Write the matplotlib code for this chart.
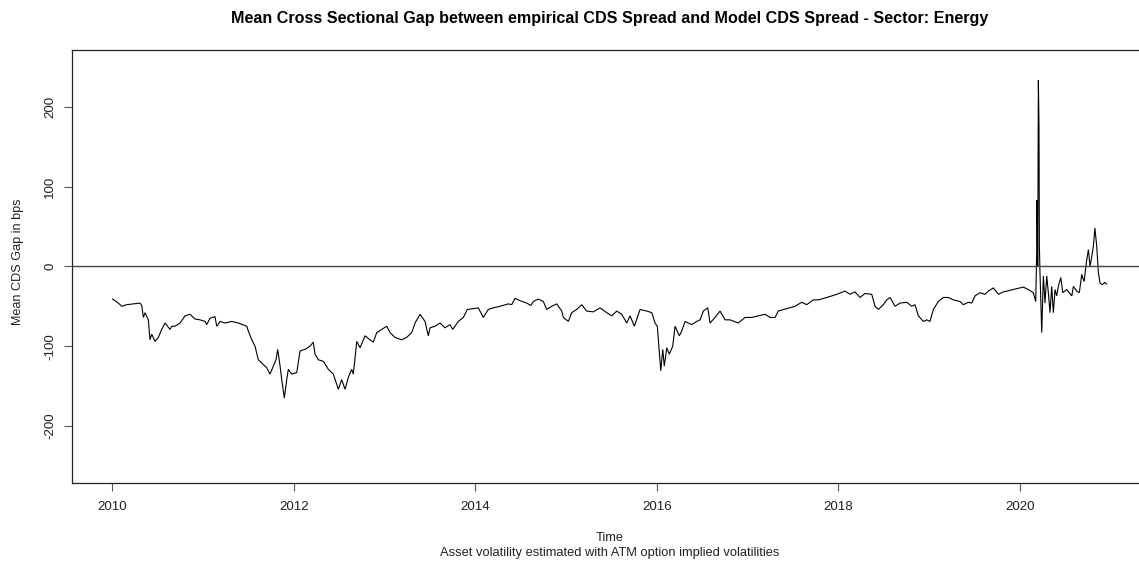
import matplotlib
matplotlib.use("Agg")
import matplotlib.pyplot as plt

plt.rcParams['font.family'] = ['Liberation Sans', 'DejaVu Sans']

title = "Mean Cross Sectional Gap between empirical CDS Spread and Model CDS Spread - Sector: Energy"
xlabel = "Time"
subtitle = "Asset volatility estimated with ATM option implied volatilities"
ylabel = "Mean CDS Gap in bps"
xticks = [2010, 2012, 2014, 2016, 2018, 2020]
yticks = [-200, -100, 0, 100, 200]

# decimal year
dates = [
    2010.004, 2010.066, 2010.104, 2010.159, 2010.231, 2010.305, 2010.324, 2010.342, 2010.360, 2010.397,
    2010.415, 2010.434, 2010.470, 2010.507, 2010.544, 2010.581, 2010.636, 2010.654, 2010.691, 2010.746,
    2010.801, 2010.856, 2010.911, 2010.966, 2011.021, 2011.040, 2011.076, 2011.131, 2011.150, 2011.187,
    2011.242, 2011.315, 2011.388, 2011.481, 2011.498, 2011.536, 2011.572, 2011.608, 2011.664, 2011.701,
    2011.737, 2011.774, 2011.803, 2011.822, 2011.848, 2011.866, 2011.895, 2011.921, 2011.939, 2011.976,
    2012.032, 2012.068, 2012.123, 2012.178, 2012.214, 2012.233, 2012.270, 2012.325, 2012.380, 2012.435,
    2012.490, 2012.527, 2012.564, 2012.600, 2012.637, 2012.655, 2012.693, 2012.729, 2012.784, 2012.839,
    2012.875, 2012.913, 2012.968, 2013.023, 2013.059, 2013.114, 2013.188, 2013.243, 2013.298, 2013.335,
    2013.390, 2013.445, 2013.481, 2013.500, 2013.555, 2013.610, 2013.665, 2013.720, 2013.750, 2013.812,
    2013.867, 2013.911, 2013.977, 2014.032, 2014.087, 2014.142, 2014.198, 2014.271, 2014.363, 2014.400,
    2014.437, 2014.492, 2014.565, 2014.610, 2014.638, 2014.693, 2014.748, 2014.786, 2014.841, 2014.896,
    2014.951, 2014.969, 2015.024, 2015.061, 2015.116, 2015.171, 2015.226, 2015.299, 2015.373, 2015.447,
    2015.502, 2015.557, 2015.612, 2015.667, 2015.704, 2015.751, 2015.814, 2015.888, 2015.943, 2015.979,
    2016.004, 2016.026, 2016.042, 2016.064, 2016.081, 2016.108, 2016.136, 2016.174, 2016.199, 2016.247,
    2016.273, 2016.310, 2016.383, 2016.438, 2016.475, 2016.511, 2016.560, 2016.585, 2016.640, 2016.695,
    2016.750, 2016.805, 2016.897, 2016.970, 2017.044, 2017.117, 2017.191, 2017.246, 2017.301, 2017.337,
    2017.430, 2017.521, 2017.595, 2017.650, 2017.723, 2017.778, 2017.871, 2017.981, 2018.072, 2018.127,
    2018.182, 2018.237, 2018.292, 2018.366, 2018.403, 2018.439, 2018.494, 2018.532, 2018.568, 2018.623,
    2018.678, 2018.752, 2018.807, 2018.843, 2018.880, 2018.935, 2018.972, 2019.008, 2019.045, 2019.100,
    2019.155, 2019.210, 2019.265, 2019.339, 2019.375, 2019.430, 2019.468, 2019.504, 2019.559, 2019.614,
    2019.651, 2019.706, 2019.761, 2019.816, 2019.890, 2019.964, 2020.036, 2020.091, 2020.146, 2020.173,
    2020.184, 2020.187, 2020.195, 2020.202, 2020.209, 2020.213, 2020.220, 2020.239, 2020.257, 2020.275,
    2020.294, 2020.312, 2020.330, 2020.349, 2020.367, 2020.386, 2020.404, 2020.422, 2020.449, 2020.471,
    2020.515, 2020.570, 2020.588, 2020.625, 2020.653, 2020.680, 2020.705, 2020.735, 2020.753, 2020.771,
    2020.790, 2020.808, 2020.825, 2020.845, 2020.863, 2020.882, 2020.907, 2020.934, 2020.953,
]

gap_bps = [
    -41, -46, -50, -48, -47, -46, -49, -64, -58, -67,
    -92, -85, -94, -89, -79, -71, -79, -75, -75, -71,
    -62, -60, -66, -67, -69, -73, -65, -63, -75, -69,
    -71, -69, -71, -75, -81, -92, -100, -117, -123, -127,
    -135, -125, -117, -104, -125, -142, -165, -142, -129, -135,
    -133, -106, -104, -100, -95, -110, -117, -119, -129, -135,
    -154, -142, -154, -139, -129, -135, -94, -102, -87, -92,
    -95, -83, -79, -75, -83, -89, -92, -89, -83, -71,
    -60, -69, -87, -77, -75, -71, -77, -73, -79, -69,
    -64, -54, -53, -52, -64, -54, -52, -50, -47, -48,
    -40, -43, -46, -49, -44, -41, -44, -54, -50, -47,
    -56, -64, -69, -58, -54, -48, -56, -57, -52, -58,
    -62, -56, -60, -71, -62, -75, -54, -56, -58, -71,
    -75, -108, -131, -104, -125, -102, -110, -100, -75, -87,
    -81, -69, -73, -69, -67, -56, -52, -71, -64, -56,
    -67, -67, -71, -64, -64, -62, -60, -64, -64, -56,
    -53, -50, -45, -48, -42, -42, -39, -35, -31, -35,
    -32, -39, -34, -35, -50, -54, -48, -42, -39, -50,
    -46, -45, -50, -48, -62, -69, -67, -69, -54, -44,
    -39, -39, -42, -44, -48, -45, -46, -37, -33, -35,
    -31, -27, -35, -32, -30, -28, -26, -29, -33, -44,
    21, 83, 0, 233, 175, 25, -8, -83, -12, -46,
    -12, -33, -58, -25, -58, -29, -37, -25, -14, -33,
    -29, -37, -25, -31, -33, -10, -19, 8, 21, 0,
    12, 25, 48, 25, -8, -21, -23, -20, -22,
]

W, H = 1139, 565
fig = plt.figure(figsize=(W / 100, H / 100), dpi=100)
left_px, top_px, bottom_px = 72.3, 50.0, 482.7
xlim = (2009.559, 2021.39)
px_per_year = 90.77
width_px = (xlim[1] - xlim[0]) * px_per_year
ax = fig.add_axes([left_px / W, 1 - bottom_px / H, width_px / W, (bottom_px - top_px) / H])

ax.plot(dates, gap_bps, color='black', lw=0.8, solid_joinstyle='miter')
ax.axhline(0, color='#444444', lw=1.0)

ax.set_xlim(*xlim)
ax.set_ylim(-271, 271)
ax.set_xticks(xticks)
ax.set_xticklabels([str(t) for t in xticks])
ax.set_yticks(yticks)
ax.set_yticklabels([str(t) for t in yticks], rotation=90, va='center')

for s in ax.spines.values():
    s.set_color('#222222')
    s.set_linewidth(0.9)
ax.spines['right'].set_visible(False)

ax.tick_params(axis='both', direction='out', length=5.5, width=0.8, color='#555555',
               labelsize=9.6, labelcolor='#222222')
ax.tick_params(axis='x', pad=7.5)
ax.tick_params(axis='y', pad=6.0)

cx = (left_px + left_px + width_px) / 2 / W
fig.text(cx, 1 - 18 / H, title, ha='center', va='center', fontsize=11.6, fontweight='bold', color='black')
fig.text(cx, 1 - 538 / H, xlabel, ha='center', va='center', fontsize=9.3, color='#222222')
fig.text(cx, 1 - 553 / H, subtitle, ha='center', va='center', fontsize=9.3, color='#222222')
fig.text(18 / W, 1 - 262 / H, ylabel, ha='center', va='center', rotation=90, fontsize=9.1, color='#222222')

fig.savefig('out.png', dpi=100)
